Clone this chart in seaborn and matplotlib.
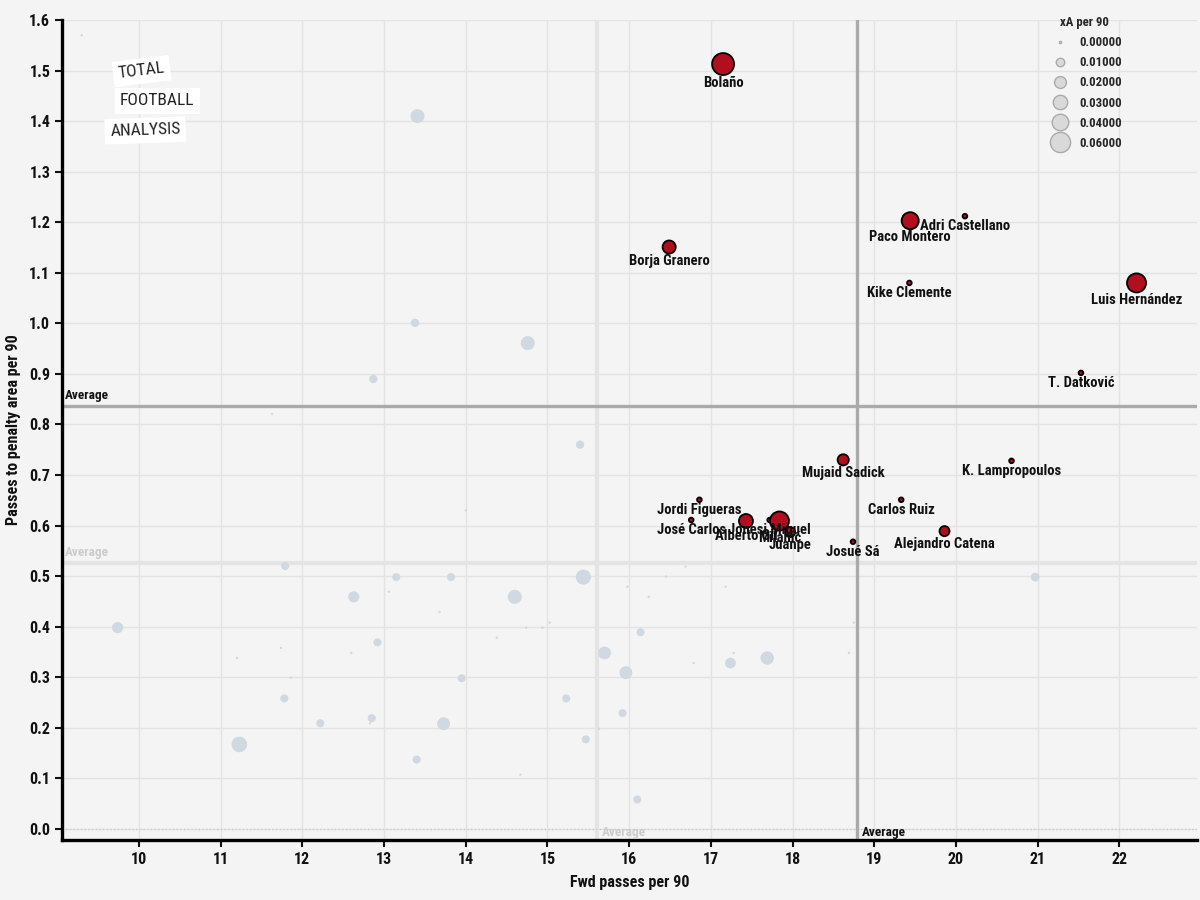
import numpy as np
import pandas as pd
import matplotlib
matplotlib.use("Agg")
import matplotlib.pyplot as plt
from matplotlib import font_manager
from matplotlib.lines import Line2D
import seaborn as sns

# ---------------- data ----------------
hl_names = ["Bolaño", "Adri Castellano", "Paco Montero", "Borja Granero", "Kike Clemente",
            "Luis Hernández", "T. Datković", "Mujaid Sadick", "K. Lampropoulos", "Carlos Ruiz",
            "Alejandro Catena", "Josué Sá", "Jordi Figueras", "José Carlos", "Alberto Gil",
            "Jonesi Miguel", "Juanpe", "Milanić"]
hl_fwd = [17.15, 20.11, 19.44, 16.49, 19.43, 22.21, 21.53, 18.62, 20.68, 19.33,
          19.86, 18.74, 16.86, 16.76, 17.43, 17.72, 17.97, 17.84]
hl_ppa = [1.513, 1.212, 1.203, 1.151, 1.080, 1.080, 0.902, 0.730, 0.728, 0.651,
          0.589, 0.568, 0.651, 0.611, 0.609, 0.611, 0.587, 0.609]
hl_xa = [0.065, 0.002, 0.036, 0.021, 0.002, 0.045, 0.002, 0.015, 0.002, 0.002,
         0.012, 0.002, 0.002, 0.002, 0.024, 0.002, 0.012, 0.045]

bg_fwd = [13.41, 13.38, 14.76, 12.87, 11.63, 15.40, 9.30, 14.00,
          11.79, 13.15, 13.82, 12.63, 13.06, 13.68, 14.60, 9.74, 14.38, 14.74, 14.94, 15.03,
          12.92, 11.74, 11.20, 12.60, 11.86, 13.95, 11.78, 12.22, 12.85, 12.83, 13.73, 11.23,
          13.40, 14.67, 15.44, 16.69, 16.45, 15.98, 16.24, 17.18, 18.75, 16.14, 15.70, 15.96,
          17.24, 17.69, 17.28, 16.79, 18.69, 15.23, 15.92, 15.63, 15.47, 16.10, 20.97]
bg_ppa = [1.410, 1.001, 0.961, 0.890, 0.821, 0.760, 1.570, 0.630,
          0.520, 0.498, 0.498, 0.459, 0.469, 0.429, 0.459, 0.398, 0.378, 0.398, 0.398, 0.408,
          0.369, 0.358, 0.338, 0.348, 0.299, 0.298, 0.258, 0.209, 0.219, 0.209, 0.208, 0.167,
          0.137, 0.107, 0.498, 0.519, 0.499, 0.479, 0.459, 0.479, 0.408, 0.389, 0.348, 0.309,
          0.328, 0.338, 0.348, 0.328, 0.348, 0.258, 0.229, 0.198, 0.177, 0.058, 0.498]
bg_xa = [0.024, 0.008, 0.024, 0.008, 0.0, 0.008, 0.0, 0.0,
         0.0075, 0.0075, 0.0075, 0.015, 0.0, 0.0, 0.024, 0.015, 0.0, 0.0, 0.0, 0.0,
         0.0075, 0.0, 0.0, 0.0, 0.0, 0.0075, 0.0075, 0.0075, 0.0075, 0.0, 0.02, 0.03,
         0.0075, 0.0, 0.028, 0.0, 0.0, 0.0, 0.0, 0.0, 0.0, 0.0075, 0.02, 0.02,
         0.014, 0.022, 0.0, 0.0, 0.0, 0.0075, 0.0075, 0.0, 0.0075, 0.0075, 0.009]

avg_fwd_all = 15.61
avg_ppa_all = 0.526
avg_fwd_sel = 18.79
avg_ppa_sel = 0.837

legend_values = [0.0, 0.01, 0.02, 0.03, 0.04, 0.06]
x_ticks = list(range(10, 23))
y_ticks = [round(0.1 * i, 1) for i in range(17)]

hl = pd.DataFrame({"name": hl_names, "fwd": hl_fwd, "ppa": hl_ppa, "xa": hl_xa})
bg = pd.DataFrame({"fwd": bg_fwd, "ppa": bg_ppa, "xa": bg_xa})

# ---------------- style ----------------
BG = "#f4f4f4"
RED = "#b20e1e"
GREY_PT = "#d0d8e2"
TXT = "#111111"
sns.set_theme(style="whitegrid")

available = {f.name for f in font_manager.fontManager.ttflist}
stretches = {(f.name, f.stretch) for f in font_manager.fontManager.ttflist}
STRETCH = "normal"
if "Liberation Sans Narrow" in available:
    MAIN = "Liberation Sans Narrow"
elif "Roboto Condensed" in available:
    MAIN = "Roboto Condensed"
elif ("DejaVu Sans", "condensed") in stretches or ("DejaVu Sans", "semi-condensed") in stretches:
    MAIN = "DejaVu Sans"
    STRETCH = "condensed"
else:
    MAIN = "DejaVu Sans"
FONT = [MAIN, "DejaVu Sans"]
plt.rcParams["font.family"] = FONT
plt.rcParams["font.stretch"] = STRETCH
plt.rcParams["font.weight"] = "bold"

fig = plt.figure(figsize=(12, 9), dpi=100, facecolor=BG)
ax = fig.add_axes([0.0517, 0.0667, 0.9458, 0.911])
ax.set_facecolor(BG)

SIZES = (3, 250)
NORM = (0, 0.06)

sns.scatterplot(data=bg, x="fwd", y="ppa", size="xa", sizes=SIZES, size_norm=NORM,
                color=GREY_PT, edgecolor="none", linewidth=0, legend=False, ax=ax, zorder=3)
sns.scatterplot(data=hl, x="fwd", y="ppa", size="xa", sizes=SIZES, size_norm=NORM,
                color=RED, edgecolor="black", linewidth=1.3, legend=False, ax=ax, zorder=4)


def size_of(v):
    return SIZES[0] + (SIZES[1] - SIZES[0]) * (v - NORM[0]) / (NORM[1] - NORM[0])


for _, r in hl.iterrows():
    off = np.sqrt(size_of(r["xa"])) / 2 + 5.5
    ax.annotate(r["name"], (r["fwd"], r["ppa"]), xytext=(0, -off), textcoords="offset points",
                ha="center", va="center", fontsize=10.5, fontweight="bold", color=TXT,
                fontstretch=STRETCH, zorder=6)

# average lines
ax.axvline(avg_fwd_all, color="#e4e4e4", lw=3, zorder=1)
ax.axhline(avg_ppa_all, color="#e4e4e4", lw=3, zorder=1)
ax.axvline(avg_fwd_sel, color="#aaaaaa", lw=2.4, zorder=2)
ax.axhline(avg_ppa_sel, color="#aaaaaa", lw=2.4, zorder=2)
ax.axhline(0, color="#cccccc", lw=1, ls=":", zorder=1)

avg_kw = dict(fontsize=9.5, fontweight="bold", fontstretch=STRETCH, zorder=5)
ax.text(9.1, avg_ppa_sel + 0.008, "Average", color=TXT, ha="left", va="bottom", **avg_kw)
ax.text(9.1, avg_ppa_all + 0.008, "Average", color="#cccccc", ha="left", va="bottom", **avg_kw)
ax.text(avg_fwd_sel + 0.06, -0.008, "Average", color=TXT, ha="left", va="center", **avg_kw)
ax.text(avg_fwd_all + 0.06, -0.008, "Average", color="#cccccc", ha="left", va="center", **avg_kw)

# axes
ax.set_xlim(9.06, 22.95)
ax.set_ylim(-0.022, 1.6)
ax.set_xticks(x_ticks)
ax.set_yticks(y_ticks)
ax.set_xticklabels([str(t) for t in x_ticks])
ax.set_yticklabels([f"{t:.1f}" for t in y_ticks])
ax.tick_params(axis="both", labelsize=11.5, colors=TXT, length=5, width=1.5, direction="out",
               left=True, bottom=True)
for lab in ax.get_xticklabels() + ax.get_yticklabels():
    lab.set_fontweight("bold")
    lab.set_fontstretch(STRETCH)
ax.grid(True, color="#e3e3e3", lw=1)
ax.set_axisbelow(True)
for s in ["top", "right"]:
    ax.spines[s].set_visible(False)
for s in ["left", "bottom"]:
    ax.spines[s].set_visible(True)
    ax.spines[s].set_color("black")
    ax.spines[s].set_linewidth(2.4)
ax.set_xlabel("Fwd passes per 90", fontsize=11.5, fontweight="bold", color=TXT, labelpad=6,
              fontstretch=STRETCH)
ax.set_ylabel("Passes to penalty area per 90", fontsize=11.5, fontweight="bold", color=TXT,
              labelpad=6, fontstretch=STRETCH)

# size legend
handles = [Line2D([], [], ls="none", marker="o", markersize=np.sqrt(size_of(v)) * 0.92,
                  markerfacecolor="#d9d9d9", markeredgecolor="#aaaaaa", markeredgewidth=1)
           for v in legend_values]
labels = [f"{v:.5f}" for v in legend_values]
leg = ax.legend(handles, labels, title="xA per 90", loc="upper right",
                bbox_to_anchor=(0.942, 1.016), frameon=False, labelspacing=0.56,
                handletextpad=0.55, borderpad=0.2,
                prop={"size": 9.2, "weight": "bold", "family": FONT, "stretch": STRETCH},
                title_fontproperties={"size": 9.2, "weight": "bold", "family": FONT,
                                      "stretch": STRETCH})

# logo
logo = [("TOTAL", 0.118, 0.921, 7), ("FOOTBALL", 0.131, 0.888, 0), ("ANALYSIS", 0.121, 0.855, 2)]
for txt, fx, fy, rot in logo:
    fig.text(fx, fy, txt, fontsize=12.5, fontweight="normal", color="#222222", rotation=rot,
             ha="center", va="center", fontstretch="condensed",
             bbox=dict(boxstyle="square,pad=0.3", facecolor="white", edgecolor="none"))

fig.savefig("out.png", dpi=100, facecolor=BG)
